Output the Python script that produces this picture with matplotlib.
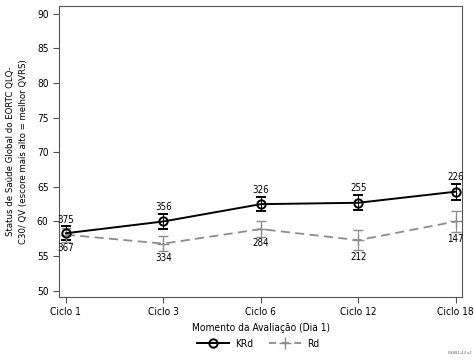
import matplotlib.pyplot as plt
from matplotlib.lines import Line2D

plt.rcParams['font.family'] = ['DejaVu Sans']
plt.rcParams['font.stretch'] = 'condensed'

ciclos = ["Ciclo 1", "Ciclo 3", "Ciclo 6", "Ciclo 12", "Ciclo 18"]
krd_mean = [58.3, 60.0, 62.5, 62.7, 64.3]
krd_err = [1.0, 1.1, 1.05, 1.1, 1.15]
krd_n = [375, 356, 326, 255, 226]
rd_mean = [58.1, 56.8, 58.9, 57.3, 60.0]
rd_err = [1.0, 1.05, 1.1, 1.4, 1.5]
rd_n = [367, 334, 284, 212, 147]

def main():
    fig = plt.figure(figsize=(4.74, 3.62), dpi=100)
    ax = fig.add_axes([59/474, 1 - 297/362, (462-59)/474, (297-6)/362])
    x = range(len(ciclos))
    grey = "#8c8c8c"

    ax.errorbar(x, rd_mean, yerr=rd_err, color=grey, ls=(0, (5, 3)), lw=1.3,
                marker="+", ms=8, mew=1.0, capsize=3.5, elinewidth=0.8, capthick=0.8)
    ax.errorbar(x, krd_mean, yerr=krd_err, color="black", lw=1.4,
                marker="o", ms=6, mfc="none", mew=1.4, capsize=3.5, elinewidth=0.7, capthick=0.8)

    for i in x:
        ax.text(i, krd_mean[i] + krd_err[i] + 0.25, str(krd_n[i]), ha="center", va="bottom", fontsize=7)
        ax.text(i, rd_mean[i] - rd_err[i] - 0.25, str(rd_n[i]), ha="center", va="top", fontsize=7)

    ax.set_xlim(-0.07, 4.065)
    ax.set_ylim(49.1, 91.1)
    ax.set_yticks(range(50, 91, 5))
    ax.set_xticks(list(x))
    ax.set_xticklabels(ciclos)
    ax.tick_params(labelsize=7.3, color="#555555", length=4)
    for s in ax.spines.values():
        s.set_color("#555555")

    ax.set_xlabel("Momento da Avaliação (Dia 1)", fontsize=7.3, labelpad=4)
    ax.set_ylabel("Status de Saúde Global do EORTC QLQ-\nC30/ QV (escore mais alto = melhor QVRS)",
                  fontsize=6.8, labelpad=6, linespacing=1.6)

    handles = [Line2D([], [], color="black", lw=1.4, marker="o", ms=6, mfc="none", mew=1.4),
               Line2D([], [], color=grey, lw=1.3, ls=(0, (4, 3)), marker="+", ms=8, mew=1.0)]
    fig.legend(handles, ["KRd", "Rd"], loc="center", bbox_to_anchor=(258/474, 1 - 344/362), ncol=2,
               frameon=False, fontsize=7.3, handlelength=3.2, columnspacing=1.5, handletextpad=0.6)

    fig.text(0.995, 0.02, "08481-43 v2", ha="right", va="bottom", fontsize=3, color="#555555")

    fig.savefig("out.png", dpi=100)

if __name__ == "__main__":
    main()
